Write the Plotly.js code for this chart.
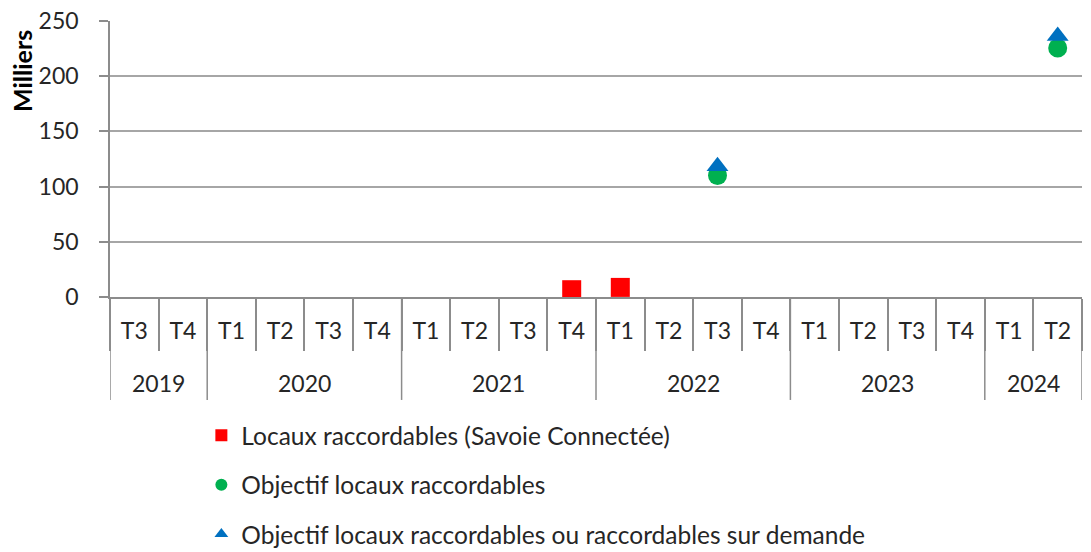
<!DOCTYPE html>
<html>
<head>
<meta charset="utf-8">
<script src="https://cdn.plot.ly/plotly-3.0.1.min.js"></script>
<style>html,body{margin:0;padding:0;background:#fff;}#chart{width:1091px;height:552px;}</style>
</head>
<body>
<div id="chart"></div>
<script>
const years = ['2019','2019','2020','2020','2020','2020','2021','2021','2021','2021','2022','2022','2022','2022','2023','2023','2023','2023','2024','2024'];
const quarters = ['T3','T4','T1','T2','T3','T4','T1','T2','T3','T4','T1','T2','T3','T4','T1','T2','T3','T4','T1','T2'];
const locauxRaccordables = [null,null,null,null,null,null,null,null,null,6.6,8.7,null,null,null,null,null,null,null,null,null];
const objectifRaccordables = [null,null,null,null,null,null,null,null,null,null,null,null,110,null,null,null,null,null,null,225.5];
const objectifSurDemande = [null,null,null,null,null,null,null,null,null,null,null,null,118.5,null,null,null,null,null,null,236.5];
const seriesNames = ['Locaux raccordables (Savoie Connectée)','Objectif locaux raccordables','Objectif locaux raccordables ou raccordables sur demande'];
const yTitle = 'Milliers';

const FONT = 'Lato, Carlito, "Liberation Sans", sans-serif';
const GRAY = '#8c8c8c';
const idx = quarters.map((_, i) => i);

// year groups derived from the years array
const groups = [];
years.forEach((y, i) => {
  if (!groups.length || groups[groups.length - 1].year !== y) groups.push({year: y, start: i, end: i});
  else groups[groups.length - 1].end = i;
});
const yearBounds = [groups[0].start - 0.5].concat(groups.map(g => g.end + 0.5));
const quarterBounds = [-0.5].concat(idx.map(i => i + 0.5));

const mk = (y, name, symbol, color, grp) => ({x: idx, y: y, name: name, type: 'scatter', mode: 'markers',
  legendgroup: grp, marker: {symbol: symbol, size: 19, color: color}});
const traces = [
  mk(locauxRaccordables, seriesNames[0], 'square', '#FF0000', 'a'),
  mk(objectifRaccordables, seriesNames[1], 'circle', '#00B050', 'b'),
  mk(objectifSurDemande, seriesNames[2], 'triangle-up', '#0070C0', 'c')
];

const shapes = yearBounds.map(b => ({type: 'line', xref: 'x', yref: 'paper', x0: b, x1: b, y0: 0, y1: -0.373,
  line: {color: GRAY, width: 1.5}}));
const annotations = groups.map(g => ({xref: 'x', yref: 'paper', x: (g.start + g.end) / 2, y: -0.313,
  text: g.year, showarrow: false, yanchor: 'middle', xanchor: 'center',
  font: {family: FONT, size: 23, color: '#262626'}}));
annotations.push({xref: 'paper', yref: 'paper', x: -0.0905, y: 0.819, text: '<b>' + yTitle + '</b>', textangle: -90,
  showarrow: false, xanchor: 'center', yanchor: 'middle', font: {family: FONT, size: 25, color: '#000'}});

const layout = {
  width: 1091, height: 552,
  margin: {l: 110, r: 9, t: 21, b: 255, autoexpand: false},
  paper_bgcolor: '#fff', plot_bgcolor: '#fff',
  font: {family: FONT, size: 23, color: '#262626'},
  showlegend: true,
  legend: {x: 0.094, y: -0.42, xanchor: 'left', yanchor: 'top', orientation: 'v',
           font: {family: FONT, size: 24.5, color: '#262626'}, tracegroupgap: 14.5, itemsizing: 'constant'},
  xaxis: {range: [-0.5, 19.5], showline: true, linecolor: GRAY, linewidth: 1.5,
          tickmode: 'array', tickvals: idx, ticktext: quarters,
          ticks: 'outside', ticklen: 13, tickcolor: 'rgba(0,0,0,0)',
          minor: {tickmode: 'array', tickvals: quarterBounds, ticks: 'outside', ticklen: 52, tickcolor: GRAY, tickwidth: 1.5, showgrid: false},
          showgrid: false, zeroline: false, fixedrange: true, automargin: false,
          tickfont: {family: FONT, size: 23, color: '#262626'}},
  yaxis: {range: [0, 250], dtick: 50, showline: true, linecolor: GRAY, linewidth: 1.5,
          ticks: 'outside', ticklen: 9, tickcolor: GRAY, tickwidth: 1.5, ticklabelstandoff: 16,
          showgrid: true, gridcolor: '#a6a6a6', gridwidth: 1.5, zeroline: false, fixedrange: true, automargin: false,
          tickfont: {family: FONT, size: 23, color: '#262626'}},
  shapes: shapes,
  annotations: annotations
};
Plotly.newPlot('chart', traces, layout, {displayModeBar: false});
</script>
</body>
</html>
